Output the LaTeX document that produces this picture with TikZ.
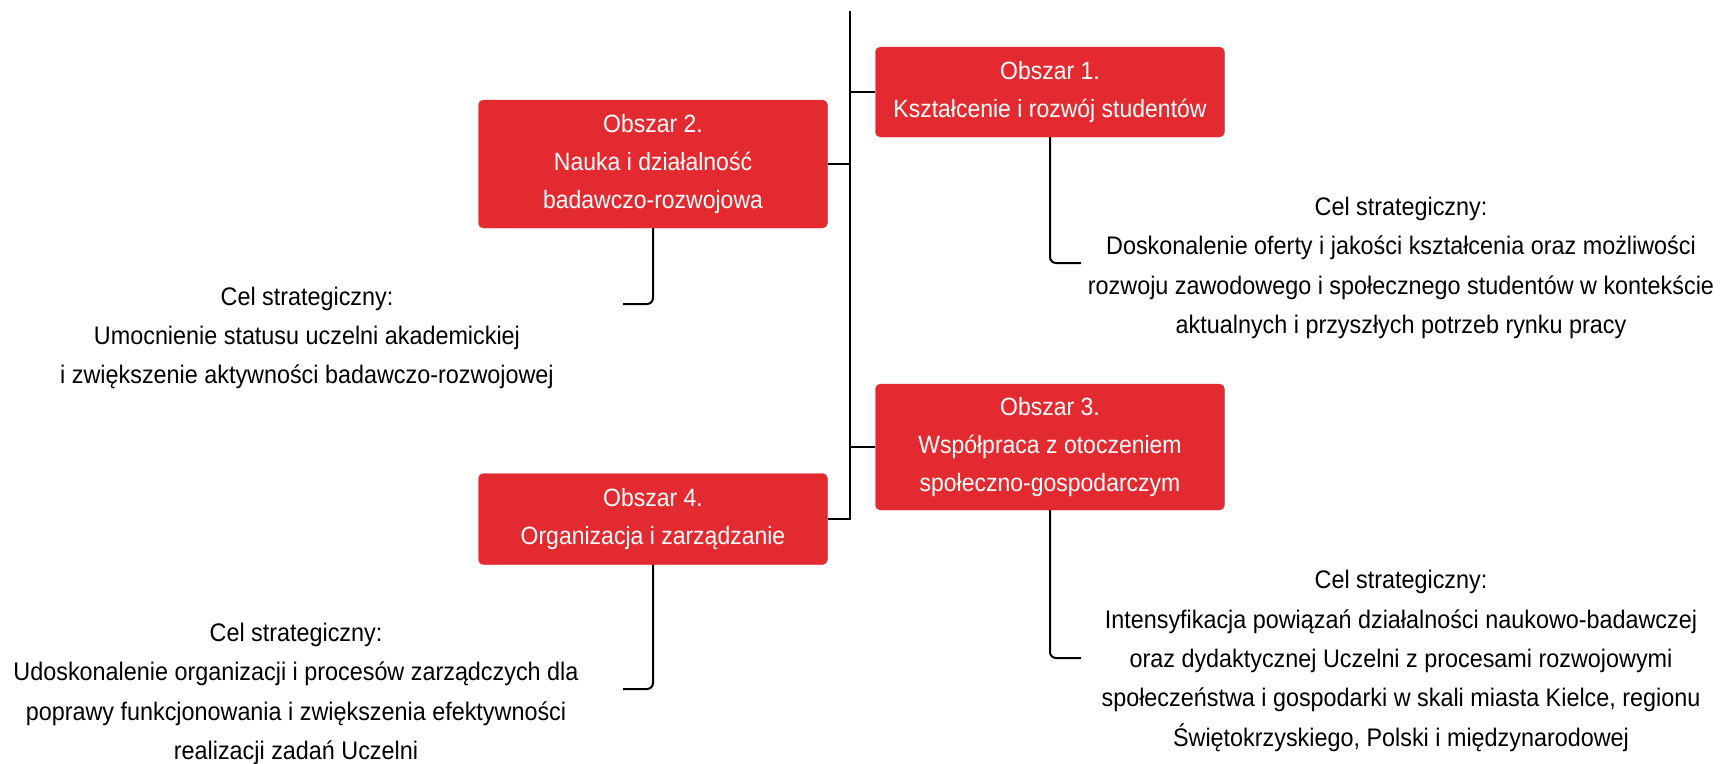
\documentclass[tikz,border=0pt]{standalone}
\usepackage{fontspec}
\setmainfont{Liberation Sans}[FakeStretch=0.92]
\definecolor{boxred}{RGB}{226,42,48}
\begin{document}
\begin{tikzpicture}[x=1pt,y=-1pt,
  area/.style={fill=boxred, draw=boxred, rounded corners=5pt, text=white, align=center,
    minimum width=349pt, inner sep=0pt,
    font=\fontsize{25}{38}\selectfont},
  goal/.style={align=center, text=black, inner sep=0pt, font=\fontsize{25.4}{39.3}\selectfont},
  conn/.style={draw=black, line width=2pt},
  child/.style={conn, rounded corners=6pt}]
\useasboundingbox (0,0) rectangle (1720,763);
\node[area, minimum height=90pt] (b1) at (1050,92) {Obszar 1.\\Kształcenie i rozwój studentów};
\node[area, minimum height=128pt] (b2) at (653,164) {Obszar 2.\\Nauka i działalność\\badawczo-rozwojowa};
\node[area, minimum height=126pt] (b3) at (1050,447) {Obszar 3.\\Współpraca z otoczeniem\\społeczno-gospodarczym};
\node[area, minimum height=91pt] (b4) at (653,519) {Obszar 4.\\Organizacja i zarządzanie};

\node[goal] (g1) at (1401,268) {Cel strategiczny:\\Doskonalenie oferty i jakości kształcenia oraz możliwości\\rozwoju zawodowego i społecznego studentów w kontekście\\aktualnych i przyszłych potrzeb rynku pracy};
\node[goal] (g2) at (307,338) {Cel strategiczny:\\Umocnienie statusu uczelni akademickiej\\i zwiększenie aktywności badawczo-rozwojowej};
\node[goal] (g3) at (1401,661) {Cel strategiczny:\\Intensyfikacja powiązań działalności naukowo-badawczej\\oraz dydaktycznej Uczelni z procesami rozwojowymi\\społeczeństwa i gospodarki w skali miasta Kielce, regionu\\Świętokrzyskiego, Polski i międzynarodowej};
\node[goal] (g4) at (296,694) {Cel strategiczny:\\Udoskonalenie organizacji i procesów zarządczych dla\\poprawy funkcjonowania i zwiększenia efektywności\\realizacji zadań Uczelni};

\coordinate (top) at (850,11);
\coordinate (c1) at (1081,263);
\coordinate (c2) at (623,304);
\coordinate (c3) at (1081,658);
\coordinate (c4) at (623,689);

\draw[conn] (top) |- (b4.east);
\draw[conn] (b1.west) -- (b1.west -| top);
\draw[conn] (b2.east) -- (b2.east -| top);
\draw[conn] (b3.west) -- (b3.west -| top);

\draw[child] (b1.south) |- (c1);
\draw[child] (b2.south) |- (c2);
\draw[child] (b3.south) |- (c3);
\draw[child] (b4.south) |- (c4);
\end{tikzpicture}
\end{document}
